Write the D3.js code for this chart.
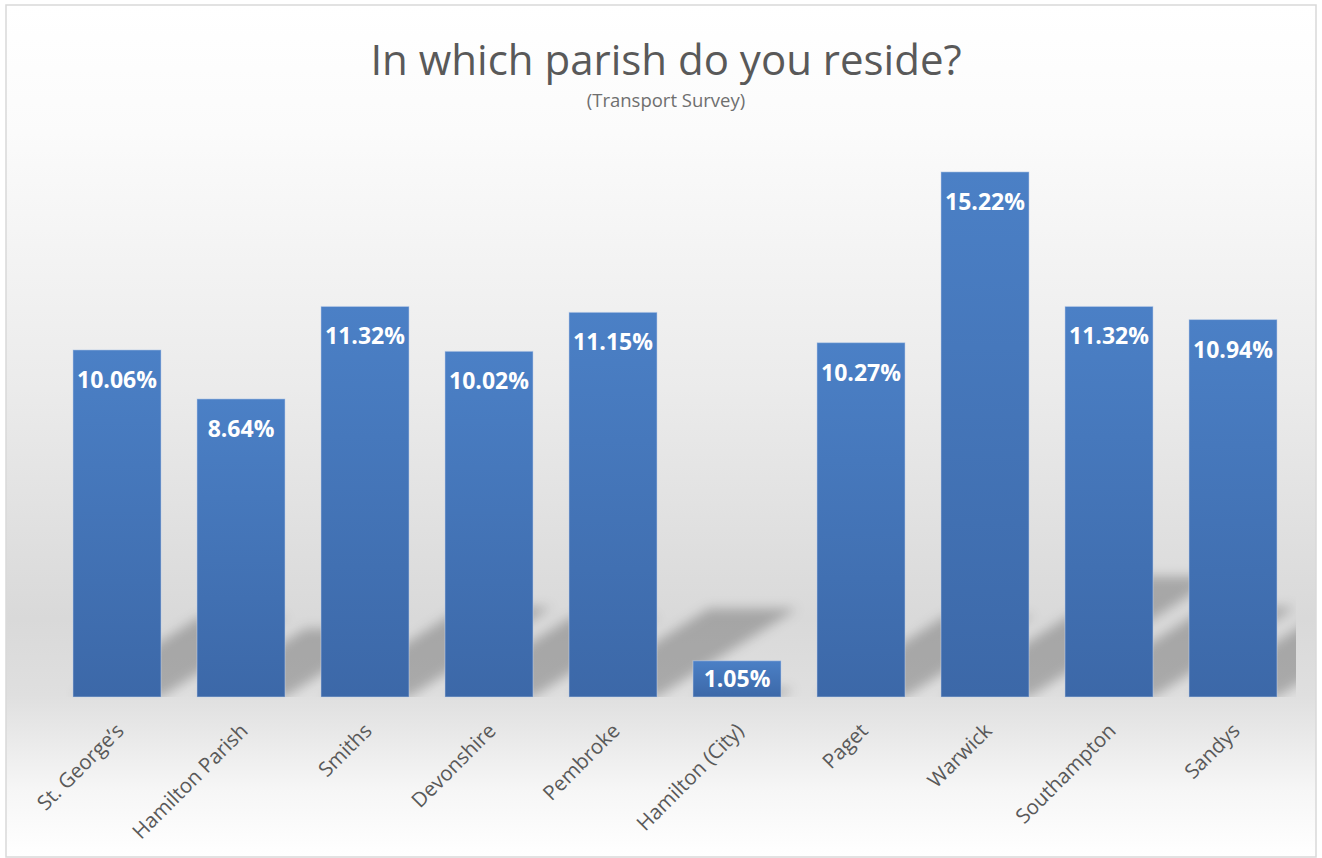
<!DOCTYPE html>
<html>
<head>
<meta charset="utf-8">
<script src="https://cdn.jsdelivr.net/npm/d3@7"></script>
<style>
  body { margin: 0; background: #fff; }
  svg { display: block; }
</style>
</head>
<body>
<svg width="1322" height="858"></svg>
<script>
const parishes = ["St. George\u2019s", "Hamilton Parish", "Smiths", "Devonshire", "Pembroke",
                  "Hamilton (City)", "Paget", "Warwick", "Southampton", "Sandys"];
const shares = [10.06, 8.64, 11.32, 10.02, 11.15, 1.05, 10.27, 15.22, 11.32, 10.94];
const chartTitle = "In which parish do you reside?";
const chartSubtitle = "(Transport Survey)";

function drawChart(){
    let svg = d3.select("svg"),
        width = +svg.attr("width"),
        height = +svg.attr("height"),
        base = 697;

    let data = parishes.map((p, i) => ({name: p, value: shares[i]}));

    let defs = svg.append("defs");

    // background: white at top, grey band near the baseline, white again at the bottom
    let bg = defs.append("linearGradient").attr("id", "bg")
        .attr("x1", 0).attr("y1", 0).attr("x2", 0).attr("y2", 1);
    [[0, "#ffffff"], [0.15, "#fbfbfb"], [0.45, "#ebebeb"], [0.72, "#d9d9d9"],
     [0.81, "#dfdfdf"], [0.92, "#f6f6f6"], [1, "#ffffff"]]
        .forEach(s => bg.append("stop").attr("offset", s[0]).attr("stop-color", s[1]));

    let barGrad = defs.append("linearGradient").attr("id", "bar")
        .attr("x1", 0).attr("y1", 0).attr("x2", 0).attr("y2", 1);
    barGrad.append("stop").attr("offset", 0).attr("stop-color", "#4b80c6");
    barGrad.append("stop").attr("offset", 1).attr("stop-color", "#3c68a8");

    defs.append("filter").attr("id", "blur")
        .attr("x", "-30%").attr("y", "-30%").attr("width", "160%").attr("height", "160%")
        .append("feGaussianBlur").attr("stdDeviation", 6);

    defs.append("clipPath").attr("id", "plot")
        .append("rect").attr("x", 55).attr("y", 0).attr("width", 1241).attr("height", base);

    svg.append("rect")
        .attr("x", 6).attr("y", 5)
        .attr("width", width - 12).attr("height", height - 6)
        .attr("fill", "url(#bg)")
        .attr("stroke", "#d9d9d9")
        .attr("stroke-width", 1.5);

    let x = d3.scaleBand()
        .domain(parishes)
        .range([55, 1295])
        .paddingInner(0.29)
        .paddingOuter(0.145);

    let y = d3.scaleLinear()
        .domain([0, 16])
        .range([base, base - 16 * 34.5]);

    // perspective shadows (diagonal upper right)
    svg.append("g")
        .attr("clip-path", "url(#plot)")
        .append("g")
        .attr("filter", "url(#blur)")
        .selectAll("path")
        .data(data)
        .join("path")
        .attr("fill", "#000")
        .attr("fill-opacity", 0.24)
        .attr("d", d => {
            let H = base - y(d.value),
                h = 0.23 * H,
                dx = 0.364 * H,
                x0 = x(d.name),
                x1 = x0 + x.bandwidth();
            return `M${x0},${base}L${x1},${base}L${x1 + dx},${base - h}L${x0 + dx},${base - h}Z`;
        });

    svg.append("g")
        .selectAll("rect")
        .data(data)
        .join("rect")
        .attr("x", d => x(d.name))
        .attr("y", d => y(d.value))
        .attr("width", x.bandwidth())
        .attr("height", d => base - y(d.value))
        .attr("fill", "url(#bar)")
        .attr("stroke", "#c9d8ee")
        .attr("stroke-opacity", 0.5)
        .attr("stroke-width", 1);

    svg.append("g")
        .selectAll("text")
        .data(data)
        .join("text")
        .attr("x", d => x(d.name) + x.bandwidth() / 2)
        .attr("y", d => y(d.value) + Math.min(38, (base - y(d.value)) / 2 + 8))
        .attr("text-anchor", "middle")
        .attr("font-family", "Open Sans")
        .attr("font-weight", "bold")
        .attr("font-size", 23)
        .attr("fill", "#ffffff")
        .text(d => d.value.toFixed(2) + "%");

    // category labels, rotated like the spreadsheet axis
    let axis = svg.append("g")
        .attr("transform", `translate(0,${base})`)
        .call(d3.axisBottom(x).tickSize(0).tickPadding(0));
    axis.select(".domain").remove();
    axis.selectAll("text")
        .attr("font-family", "Open Sans")
        .attr("font-size", 20.5)
        .attr("fill", "#595959")
        .attr("text-anchor", "end")
        .attr("y", 0)
        .attr("dy", "0.35em")
        .attr("transform", "translate(3,30) rotate(-45)");

    svg.append("text")
        .attr("x", 666).attr("y", 75)
        .attr("text-anchor", "middle")
        .attr("font-family", "Open Sans")
        .attr("font-size", 42)
        .attr("fill", "#595959")
        .text(chartTitle);

    svg.append("text")
        .attr("x", 666).attr("y", 107)
        .attr("text-anchor", "middle")
        .attr("font-family", "Open Sans")
        .attr("font-size", 18.5)
        .attr("fill", "#6f6f6f")
        .text(chartSubtitle);
}

drawChart();
</script>
</body>
</html>
